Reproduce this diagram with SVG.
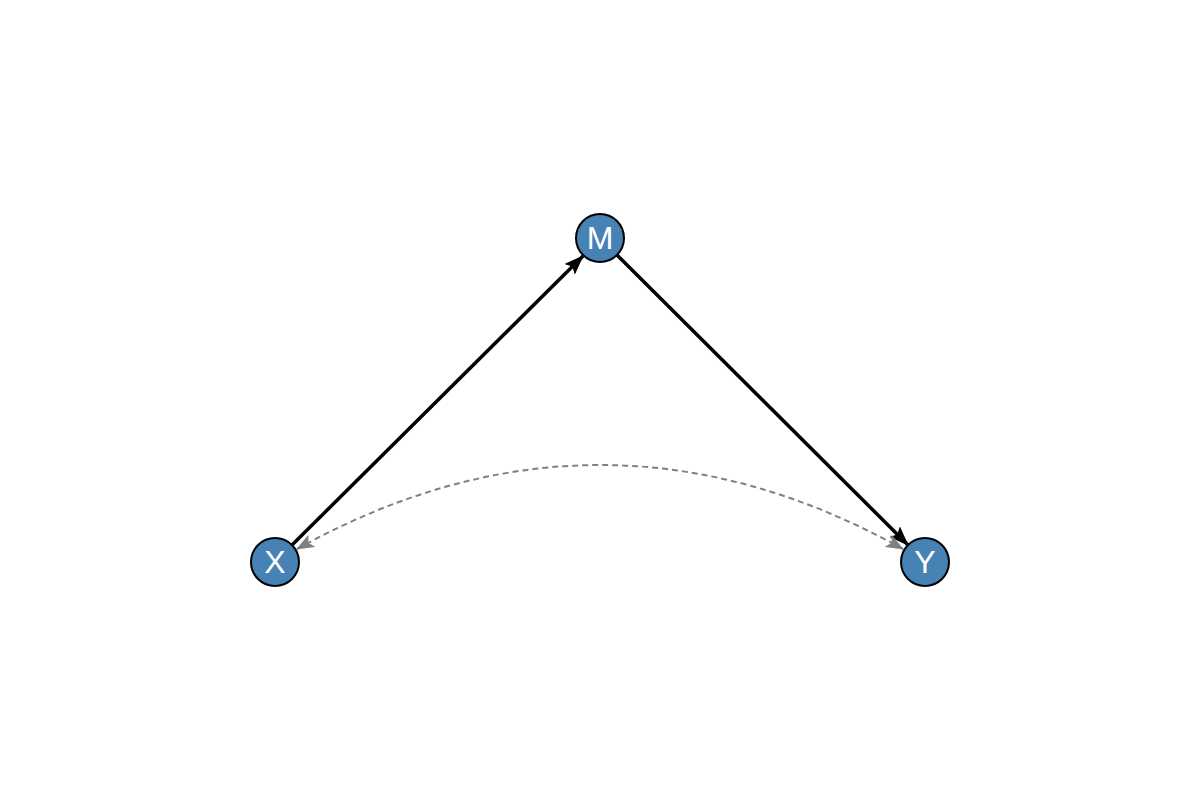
<svg xmlns="http://www.w3.org/2000/svg" width="1200" height="800" viewBox="0 0 1200 800">
<defs>
<style>
.node{fill:#4682b4;stroke:#000;stroke-width:2}
.lbl{font-family:"Liberation Sans",Arial,sans-serif;font-size:32px;fill:#fff;text-anchor:middle;dominant-baseline:central}
.edge{stroke:#000;stroke-width:3.5;fill:none}
.dash{stroke:#808080;stroke-width:2;fill:none;stroke-dasharray:6,4}
</style>
<marker id="ahg" markerWidth="18" markerHeight="14" refX="17" refY="7" orient="auto-start-reverse" markerUnits="userSpaceOnUse" viewBox="0 0 18 14">
<path d="M0,0 L18,7 L0,14 L4,7 Z" fill="#808080"/>
</marker>
<marker id="ahb" markerWidth="20" markerHeight="15" refX="19" refY="7.5" orient="auto" markerUnits="userSpaceOnUse" viewBox="0 0 20 15">
<path d="M0,0 L20,7.5 L0,15 L4,7.5 Z" fill="#000"/>
</marker>
</defs>
<rect width="1200" height="800" fill="#fff"/>
<g id="connectors">
<line class="edge" x1="292" y1="545" x2="583" y2="256" marker-end="url(#ahb)"/>
<line class="edge" x1="617" y1="255" x2="908" y2="545" marker-end="url(#ahb)"/>
<path class="dash" d="M297,549 Q600,381 903,549" marker-start="url(#ahg)" marker-end="url(#ahg)"/>
</g>
<g id="node-X"><circle class="node" cx="275" cy="562" r="24"/><text class="lbl" x="275" y="562">X</text></g>
<g id="node-M"><circle class="node" cx="600" cy="238" r="24"/><text class="lbl" x="600" y="238">M</text></g>
<g id="node-Y"><circle class="node" cx="925" cy="562" r="24"/><text class="lbl" x="925" y="562">Y</text></g>
</svg>
